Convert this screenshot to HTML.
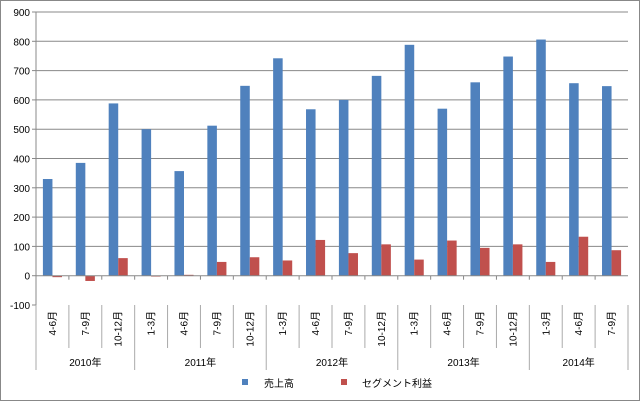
<!DOCTYPE html>
<html><head><meta charset="utf-8"><style>
body{margin:0;background:#fff}
svg{display:block;font-family:"Liberation Sans","Noto Sans CJK JP",sans-serif}
</style></head><body>
<svg id="c" width="640" height="401"></svg>
<script>
const categories=["4-6月","7-9月","10-12月","1-3月","4-6月","7-9月","10-12月","1-3月","4-6月","7-9月","10-12月","1-3月","4-6月","7-9月","10-12月","1-3月","4-6月","7-9月"];
const years=["2010年","2011年","2012年","2013年","2014年"];
const yearCounts=[3,4,4,4,3];
const sales=[330,385,588,500,357,512,648,742,568,600,682,788,570,660,748,806,657,647];
const profit=[-5,-18,60,-3,3,47,63,52,122,77,107,55,120,95,107,47,133,87];
const yTicks=[-100,0,100,200,300,400,500,600,700,800,900];
const svg=document.getElementById('c');const NS='http://www.w3.org/2000/svg';
function mk(t,a,txt){const e=document.createElementNS(NS,t);for(const k in a)e.setAttribute(k,a[k]);if(txt!=null)e.textContent=txt;svg.appendChild(e);return e;}
const L=36,R=628,T=12,B=305,yMin=-100,yMax=900;
const y=v=>B-(v-yMin)/(yMax-yMin)*(B-T);
const cw=(R-L)/categories.length;
const x=i=>L+i*cw;
let e=mk('rect',{x:0.5,y:0.5,width:639,height:400,fill:'#fff',stroke:'#888'});


yTicks.forEach(v=>{
 if(v!==0&&v!==yMin){e=mk('line',{x1:L,x2:R,y1:y(v),y2:y(v),stroke:'#888','stroke-width':1});
 
 }
 e=mk('line',{x1:L-4,x2:L,y1:y(v),y2:y(v),stroke:'#888'});
 
 
 e=mk('text',{x:L-6,y:y(v)+4,'text-anchor':'end','font-size':10,fill:'#000'},v);
 
 
});
e=mk('line',{x1:L,x2:L,y1:T,y2:B,stroke:'#888'});


const bw=cw*0.29;
categories.forEach((c,i)=>{
 const cx=x(i)+cw/2;
 e=mk('rect',{x:cx-bw,y:Math.min(y(sales[i]),y(0)),width:bw,height:Math.abs(y(sales[i])-y(0)),fill:'#4f81bd'});
 
 
 e=mk('rect',{x:cx,y:Math.min(y(profit[i]),y(0)),width:bw,height:Math.abs(y(profit[i])-y(0)),fill:'#c0504d'});
 
 
 e=mk('line',{x1:x(i),x2:x(i),y1:y(0),y2:y(0)+4,stroke:'#888'});
 
 
 e=mk('line',{x1:x(i),x2:x(i),y1:B,y2:348,stroke:'#aaa'});
 
 
 e=mk('text',{x:0,y:0,'text-anchor':'end','font-size':10,fill:'#000',transform:`translate(${cx+3.5},${B+6}) rotate(-90)`},c);
 
 
});
e=mk('line',{x1:L,x2:R,y1:y(0),y2:y(0),stroke:'#888'});


e=mk('line',{x1:R,x2:R,y1:B,y2:348,stroke:'#aaa'});


let s=0;
years.forEach((yr,j)=>{
 const x0=x(s),x1=x(s+yearCounts[j]);
 e=mk('line',{x1:x0,x2:x0,y1:348,y2:370,stroke:'#aaa'});
 
 
 e=mk('text',{x:(x0+x1)/2,y:366,'text-anchor':'middle','font-size':10,fill:'#000'},yr);
 
 
 s+=yearCounts[j];
});
e=mk('line',{x1:R,x2:R,y1:348,y2:370,stroke:'#aaa'});


e=mk('rect',{x:242,y:379,width:6,height:6,fill:'#4f81bd'});


e=mk('text',{x:264,y:387,'font-size':10,fill:'#000'},'売上高');


e=mk('rect',{x:341,y:379,width:6,height:6,fill:'#c0504d'});


e=mk('text',{x:362,y:387,'font-size':10,fill:'#000'},'セグメント利益');


</script>
</body></html>
